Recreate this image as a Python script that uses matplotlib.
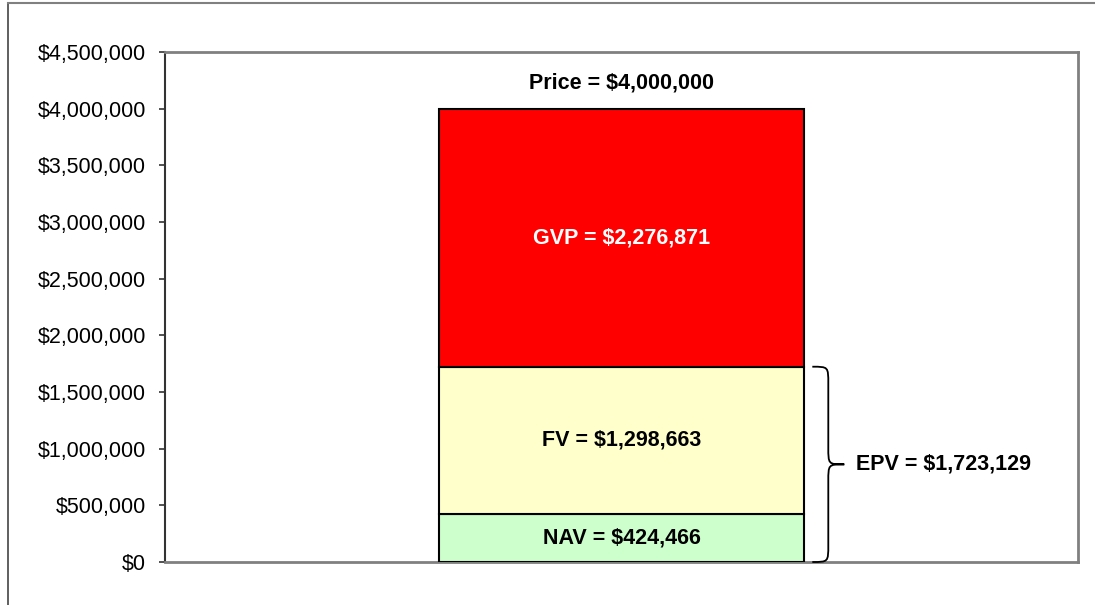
import matplotlib
matplotlib.use("Agg")
import matplotlib.pyplot as plt
from matplotlib.path import Path
from matplotlib.patches import PathPatch
from matplotlib.lines import Line2D
import matplotlib.transforms as mtransforms
from matplotlib.ticker import FuncFormatter

plt.rcParams['font.family'] = ['Liberation Sans', 'DejaVu Sans']

segments = ["NAV", "FV", "GVP"]
values = [424466, 1298663, 2276871]
colors = ["#CCFFCC", "#FFFFCC", "#FF0000"]
label_colors = ["black", "black", "white"]
price = 4000000
epv = 1723129
yticks = [0, 500000, 1000000, 1500000, 2000000, 2500000, 3000000, 3500000, 4000000, 4500000]

FS = 15.5

fig = plt.figure(figsize=(10.95, 6.05), dpi=100)
ax = fig.add_axes([165/1095, 1-562/605, (1078-165)/1095, (562-52)/605])

bottom = 0
for name, v, c, lc in zip(segments, values, colors, label_colors):
    ax.bar(0, v, width=0.4, bottom=bottom, color=c, edgecolor="black", linewidth=1.5, zorder=3)
    ax.text(0, bottom + v/2, f"{name} = ${v:,.0f}", ha="center", va="center",
            fontsize=FS, fontweight="bold", color=lc, zorder=4)
    bottom += v

ax.annotate(f"Price = ${price:,.0f}", xy=(0, price), xytext=(0, 26), textcoords="offset pixels",
            ha="center", va="center", fontsize=FS, fontweight="bold")

ax.set_xlim(-0.5, 0.5)
ax.set_ylim(0, 4500000)
ax.set_yticks(yticks)
ax.yaxis.set_major_formatter(FuncFormatter(lambda v, p: f"${v:,.0f}"))
ax.set_xticks([])
ax.tick_params(axis="y", direction="out", length=4, width=1.2, labelsize=FS, pad=9.5, color="#333333")

for s in ["top", "right", "bottom"]:
    ax.spines[s].set_color("#808080")
    ax.spines[s].set_linewidth(2)
ax.spines["left"].set_color("#333333")
ax.spines["left"].set_linewidth(1.5)

# Brace for EPV
trans = mtransforms.blended_transform_factory(ax.transAxes, ax.transData)
x0, x1, x2 = 0.709, 0.7265, 0.744
top, mid = epv, epv/2
r = 150000
verts = [(x0, top), (x1, top), (x1, top), (x1, top - r),
         (x1, mid + r),
         (x1, mid), (x1, mid), (x2, mid),
         (x1, mid), (x1, mid), (x1, mid - r),
         (x1, r),
         (x1, 0), (x1, 0), (x0, 0)]
codes = [Path.MOVETO, Path.CURVE4, Path.CURVE4, Path.CURVE4,
         Path.LINETO,
         Path.CURVE4, Path.CURVE4, Path.CURVE4,
         Path.CURVE4, Path.CURVE4, Path.CURVE4,
         Path.LINETO,
         Path.CURVE4, Path.CURVE4, Path.CURVE4]
ax.add_patch(PathPatch(Path(verts, codes), transform=trans, fill=False,
                       edgecolor="black", linewidth=1.3, clip_on=False, zorder=5))
ax.text(0.757, mid, f"EPV = ${epv:,.0f}", transform=trans, ha="left", va="center",
        fontsize=FS, fontweight="bold")

# Outer chart frame (partially visible)
fig.add_artist(Line2D([7.5/1095, 7.5/1095], [0, 1 - 2.5/605], transform=fig.transFigure,
                      color="#444444", linewidth=1.2))
fig.add_artist(Line2D([7.5/1095, 1], [1 - 2.5/605, 1 - 2.5/605], transform=fig.transFigure,
                      color="#808080", linewidth=1.5))

fig.savefig("out.png", dpi=100)
